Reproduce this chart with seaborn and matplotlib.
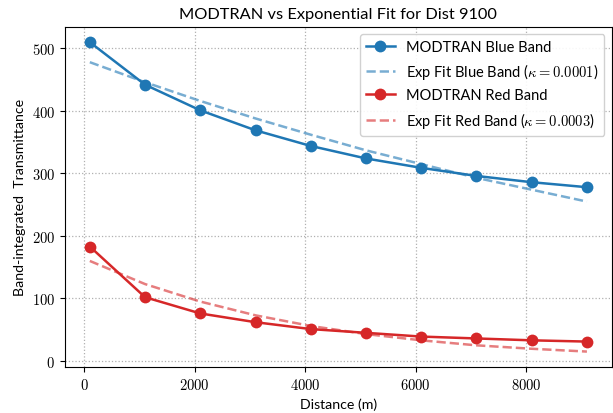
import numpy as np
import pandas as pd
import matplotlib
matplotlib.use("Agg")
import matplotlib.pyplot as plt
from matplotlib.ticker import FuncFormatter
import seaborn as sns

distance = [100, 1100, 2100, 3100, 4100, 5100, 6100, 7100, 8100, 9100]
blue_modtran = [510, 442, 401, 369, 344, 324, 309, 296, 286, 278]
red_modtran = [183, 102, 76, 62, 51, 45, 39, 36, 33, 31]
blue_fit = [478, 446, 416, 388, 362, 337, 315, 293, 274, 255]
red_fit = [160, 123, 95, 73, 56, 43, 33, 25, 19.5, 15]
kappa_blue = "0.0001"
kappa_red = "0.0003"

plt.rcParams["mathtext.fontset"] = "cm"
plt.rcParams["font.family"] = ["Lato", "DejaVu Sans"]

fig = plt.figure(figsize=(6.13, 4.14), dpi=100)
ax = fig.add_axes([0.106, 0.111, 0.892, 0.822])

blue = "#1f77b4"
red = "#d62728"

df = pd.DataFrame({"x": distance, "bm": blue_modtran, "rm": red_modtran,
                   "bf": blue_fit, "rf": red_fit})

sns.lineplot(data=df, x="x", y="bm", ax=ax, color=blue, marker="o", markersize=8.5,
             markeredgewidth=0, linewidth=1.8, label="MODTRAN Blue Band")
sns.lineplot(data=df, x="x", y="bf", ax=ax, color=blue, alpha=0.6, linestyle="--",
             linewidth=1.8, label=r"Exp Fit Blue Band ($\kappa = " + kappa_blue + "$)")
sns.lineplot(data=df, x="x", y="rm", ax=ax, color=red, marker="o", markersize=8.5,
             markeredgewidth=0, linewidth=1.8, label="MODTRAN Red Band")
sns.lineplot(data=df, x="x", y="rf", ax=ax, color=red, alpha=0.6, linestyle="--",
             linewidth=1.8, label=r"Exp Fit Red Band ($\kappa = " + kappa_red + "$)")

ax.grid(True, linestyle=":", color="#b0b0b0", linewidth=0.9)
ax.set_xticks([0, 2000, 4000, 6000, 8000])
ax.set_yticks([0, 100, 200, 300, 400, 500])
fmt = FuncFormatter(lambda v, p: f"${v:g}$")
ax.xaxis.set_major_formatter(fmt)
ax.yaxis.set_major_formatter(fmt)
ax.tick_params(labelsize=10.5)
ax.set_xlabel("Distance (m)", fontsize=10.2)
ax.set_ylabel("Band-integrated  Transmittance", fontsize=10.2)
ax.set_title("MODTRAN vs Exponential Fit for Dist 9100", fontsize=11.8)
ax.legend(loc="upper right", fontsize=10.5, framealpha=0.9)

fig.savefig("out.png", dpi=100)
